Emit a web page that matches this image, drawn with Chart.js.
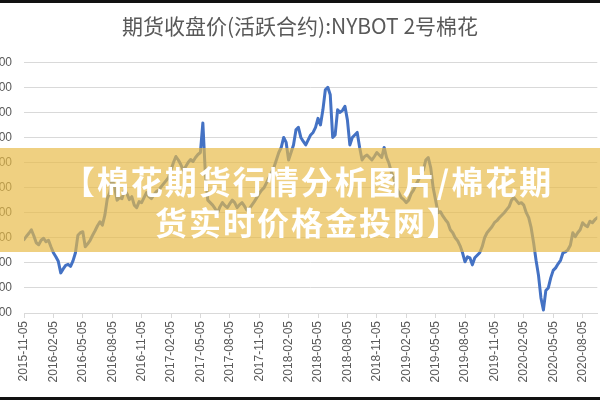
<!DOCTYPE html>
<html>
<head>
<meta charset="utf-8">
<script src="https://cdn.jsdelivr.net/npm/chart.js@4/dist/chart.umd.min.js"></script>
<style>
  html, body { margin: 0; padding: 0; width: 600px; height: 400px; overflow: hidden; background: #ffffff; }
  #wrap { position: absolute; left: -40px; top: 0; width: 640px; height: 400px; }
  #banner { position: absolute; left: 0; top: 148px; width: 600px; height: 104px; background: rgba(232,185,70,0.68); }
  #bannerText { position: absolute; left: 8px; top: 160px; width: 600px; text-align: center;
    font-family: "Noto Sans CJK SC", sans-serif; font-weight: 700; font-size: 32px; line-height: 41px;
    letter-spacing: 2px; color: #ffffff; white-space: nowrap; }
  .edge { position: absolute; left: 0; width: 600px; height: 3px; background: #111; }
</style>
</head>
<body>
<div id="wrap"><canvas id="c"></canvas></div>
<div id="banner"></div>
<div id="bannerText">【棉花期货行情分析图片/棉花期<br>货实时价格金投网】</div>
<div class="edge" style="top:0"></div>
<div class="edge" style="top:397px"></div>
<script>
const chartTitle = '期货收盘价(活跃合约):NYBOT 2号棉花';
const tickLabels = ['2015-11-05','2016-02-05','2016-05-05','2016-08-05','2016-11-05','2017-02-05',
  '2017-05-05','2017-08-05','2017-11-05','2018-02-05','2018-05-05','2018-08-05','2018-11-05',
  '2019-02-05','2019-05-05','2019-08-05','2019-11-05','2020-02-05','2020-05-05','2020-08-05'];
// weekly closing prices (US cents/lb), starting 2015-11-05
const closePrices = [
  64.6, 65.3, 65.9, 66.6, 65.4, 64.0, 63.6, 64.5, 64.9, 64.2,
  64.5, 63.2, 62.0, 61.2, 60.3, 58.0, 58.8, 59.5, 59.7, 59.3,
  60.4, 62.0, 65.5, 66.0, 66.2, 63.2, 63.8, 64.5, 65.5, 66.4,
  67.4, 68.2, 67.5, 69.5, 72.8, 74.0, 76.8, 75.0, 72.5, 73.0,
  72.8, 74.5, 73.8, 72.6, 73.2, 71.5, 71.0, 72.2, 72.0, 73.0,
  74.0, 73.2, 72.8, 73.6, 74.2, 74.5, 75.2, 75.8, 76.4, 77.0,
  78.5, 80.0, 81.2, 80.5, 79.6, 78.5, 79.2, 80.0, 80.6, 80.2,
  81.0, 81.6, 82.0, 87.9, 78.0, 72.5, 72.0, 71.5, 70.8, 70.0,
  71.2, 72.0, 71.4, 71.0, 71.8, 72.5, 72.0, 71.0, 71.6, 72.0,
  71.3, 70.5, 70.8, 71.5, 72.2, 73.0, 73.8, 74.5, 75.0, 76.0,
  77.0, 78.0, 79.0, 80.5, 82.0, 83.0, 85.0, 84.0, 80.5, 82.0,
  83.5, 86.5, 87.0, 85.0, 84.2, 83.5, 84.5, 85.5, 86.0, 87.0,
  88.8, 87.5, 90.5, 94.5, 95.0, 93.5, 85.0, 85.5, 90.5, 90.0,
  90.4, 91.2, 88.5, 83.5, 85.0, 85.5, 86.0, 83.0, 80.5, 81.2,
  81.5, 81.0, 80.5, 81.2, 82.0, 81.5, 81.0, 83.0, 81.0, 79.8,
  78.0, 76.8, 75.0, 74.0, 73.0, 72.6, 72.0, 72.5, 73.8, 74.5,
  75.6, 76.5, 77.6, 78.5, 80.5, 81.0, 79.0, 75.0, 72.5, 70.0,
  70.2, 69.3, 68.6, 68.0, 66.6, 66.0, 65.0, 64.4, 63.4, 62.0,
  60.2, 61.2, 61.0, 59.6, 61.0, 61.5, 62.0, 63.2, 65.0, 66.0,
  66.6, 67.2, 68.0, 68.4, 69.0, 69.5, 70.0, 70.6, 71.2, 72.5,
  73.0, 72.4, 71.8, 72.0, 71.5, 70.0, 69.0, 67.0, 64.0, 60.5,
  57.5, 53.0, 50.6, 54.5, 55.0, 57.0, 58.5, 59.0, 59.8, 60.5,
  62.0, 62.2, 62.6, 63.5, 66.0, 65.2, 66.0, 66.6, 68.0, 67.5,
  67.2, 68.3, 68.0, 68.6, 69.0
];
const yMin = 50, yMax = 100, yStep = 5;
const weeksPerTick = 12;

const tickFont = { family: 'Liberation Sans', size: 12 };
new Chart(document.getElementById('c'), {
  type: 'line',
  data: {
    datasets: [{
      data: closePrices.map((v, i) => ({ x: i, y: v })),
      borderColor: '#4472C4',
      borderWidth: 3,
      pointRadius: 0,
      tension: 0,
      borderJoinStyle: 'round',
      borderCapStyle: 'round'
    }]
  },
  options: {
    responsive: true,
    maintainAspectRatio: false,
    animation: false,
    devicePixelRatio: 1,
    layout: { padding: { left: 40, right: 0, top: 0, bottom: 0 } },
    plugins: {
      legend: { display: false },
      tooltip: { enabled: false },
      title: {
        display: true,
        text: chartTitle,
        color: '#595959',
        font: { family: 'Noto Sans CJK SC', size: 21, weight: 'normal' },
        padding: { top: 13, bottom: 24 }
      }
    },
    scales: {
      x: {
        type: 'linear',
        min: 0,
        max: closePrices.length - 1,
        afterFit: s => { s.height = 87; },
        border: { color: '#d9d9d9', width: 1 },
        grid: { drawOnChartArea: false, drawTicks: true, tickLength: 5, color: '#d9d9d9' },
        ticks: {
          stepSize: weeksPerTick,
          includeBounds: false,
          autoSkip: false,
          minRotation: 90,
          maxRotation: 90,
          padding: 3,
          color: '#595959',
          font: tickFont,
          callback: v => (v % weeksPerTick === 0 ? tickLabels[v / weeksPerTick] : null)
        }
      },
      y: {
        min: yMin,
        max: yMax,
        afterFit: s => { s.width = 24; },
        border: { display: false },
        grid: { color: '#d9d9d9', lineWidth: 1, drawTicks: false },
        ticks: {
          stepSize: yStep,
          padding: 12,
          color: '#595959',
          font: tickFont,
          callback: v => v.toFixed(2)
        }
      }
    }
  }
});
</script>
</body>
</html>
